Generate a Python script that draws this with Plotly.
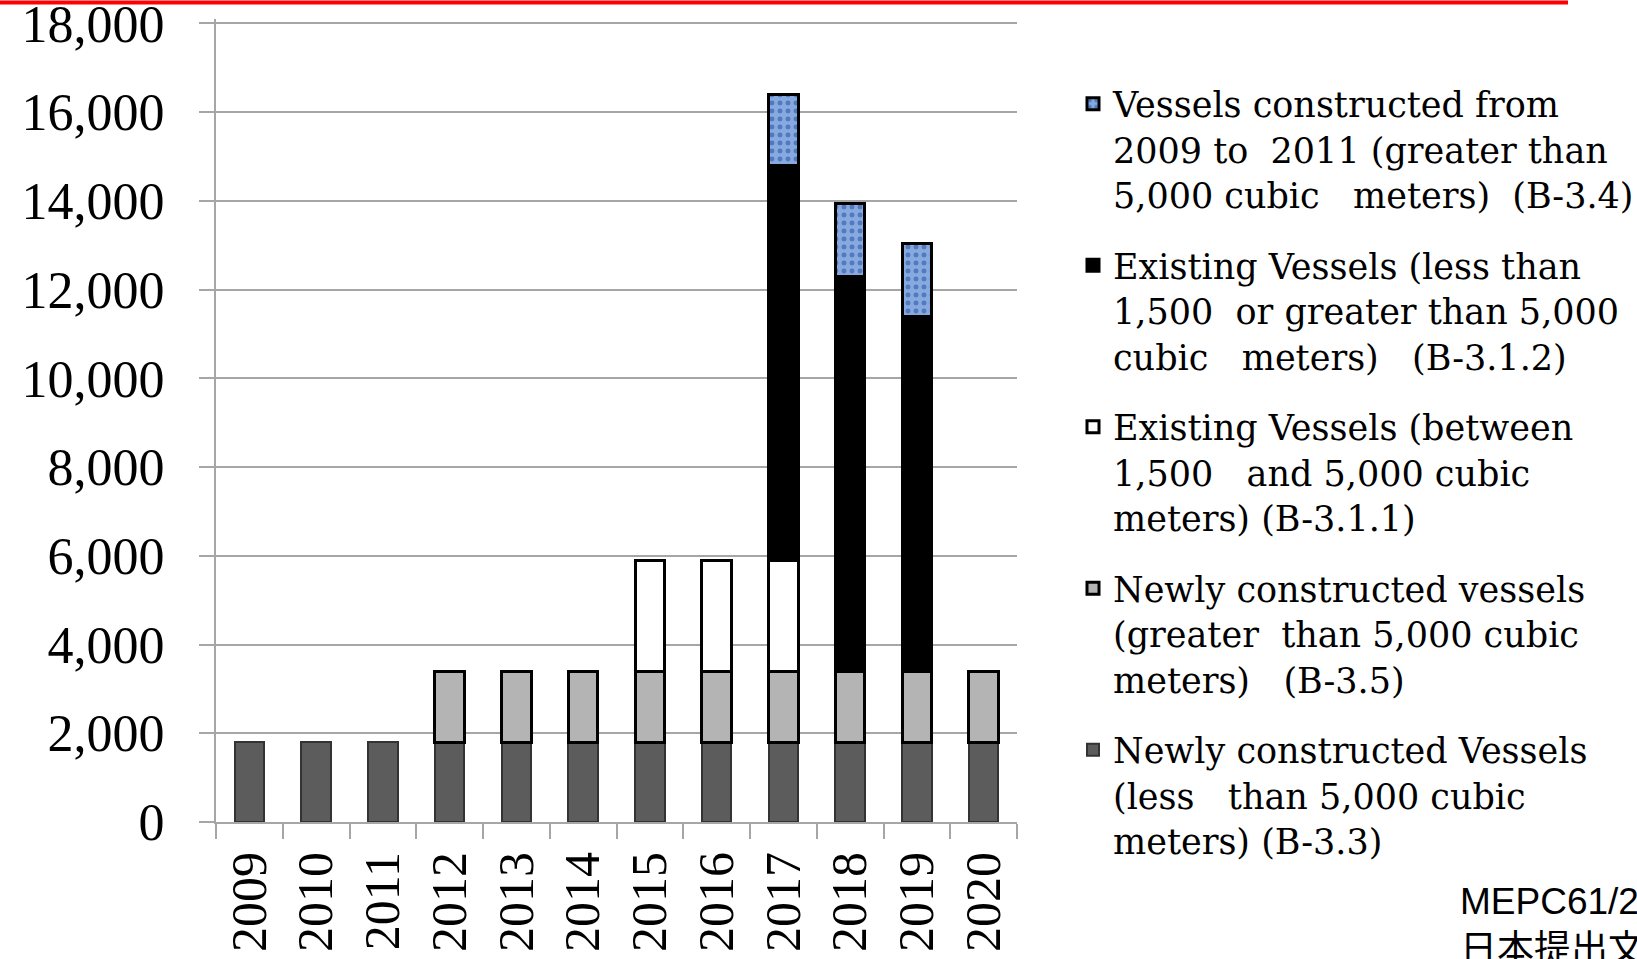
import plotly.graph_objects as go

years = ["2009", "2010", "2011", "2012", "2013", "2014", "2015", "2016", "2017", "2018", "2019", "2020"]

# stacked from bottom to top
new_small = [1800, 1800, 1800, 1800, 1800, 1800, 1800, 1800, 1800, 1800, 1800, 1800]      # B-3.3
new_large = [None, None, None, 1600, 1600, 1600, 1600, 1600, 1600, 1600, 1600, 1600]      # B-3.5
exist_mid = [None, None, None, None, None, None, 2500, 2500, 2500, None, None, None]      # B-3.1.1
exist_other = [None, None, None, None, None, None, None, None, 8900, 8900, 8000, None]    # B-3.1.2
vessels_0911 = [None, None, None, None, None, None, None, None, 1600, 1650, 1650, None]   # B-3.4

y_ticks = [0, 2000, 4000, 6000, 8000, 10000, 12000, 14000, 16000, 18000]

names = [
    "Newly constructed Vessels<br>(less   than 5,000 cubic<br>meters) (B-3.3)",
    "Newly constructed vessels<br>(greater  than 5,000 cubic<br>meters)   (B-3.5)",
    "Existing Vessels (between<br>1,500   and 5,000 cubic<br>meters) (B-3.1.1)",
    "Existing Vessels (less than<br>1,500  or greater than 5,000<br>cubic   meters)   (B-3.1.2)",
    "Vessels constructed from<br>2009 to  2011 (greater than<br>5,000 cubic   meters)  (B-3.4)",
]

W, H = 1637, 959
Y_TOP = 18100
L, R, B = 216, 1017, 822
T = B - 799 * Y_TOP / 18000  # 18000 sits at 23 px


def px(x):
    return (x - L) / (R - L)


def py(y):
    return (B - y) / (B - T)


fig = go.Figure()
fig.add_trace(go.Bar(x=years, y=new_small, name=names[0], legendgroup="a", legendrank=5,
                     marker=dict(color="#5c5c5c", line=dict(color="#333333", width=2))))
fig.add_trace(go.Bar(x=years, y=new_large, name=names[1], legendgroup="b", legendrank=4,
                     marker=dict(color="#b4b4b4", line=dict(color="#000000", width=3))))
fig.add_trace(go.Bar(x=years, y=exist_mid, name=names[2], legendgroup="c", legendrank=3,
                     marker=dict(color="#ffffff", line=dict(color="#000000", width=3))))
fig.add_trace(go.Bar(x=years, y=exist_other, name=names[3], legendgroup="d", legendrank=2,
                     marker=dict(color="#000000", line=dict(color="#000000", width=3))))
fig.add_trace(go.Bar(x=years, y=vessels_0911, name=names[4], legendgroup="e", legendrank=1,
                     marker=dict(color="#7fa3dc", line=dict(color="#000000", width=3),
                                 pattern=dict(shape=".", fgcolor="#5279bd", bgcolor="#86a9df",
                                              size=8, solidity=0.3, fillmode="replace"))))

serif = "Liberation Serif, Times New Roman, serif"

fig.update_layout(
    width=W, height=H,
    margin=dict(l=L, r=W - R, t=T, b=H - B, pad=0, autoexpand=False),
    barmode="stack",
    bargap=0.56,
    plot_bgcolor="white",
    paper_bgcolor="white",
    font=dict(family=serif, color="black"),
    showlegend=True,
    legend=dict(
        x=px(1073), xanchor="left",
        y=py(74), yanchor="top",
        traceorder="grouped",
        tracegroupgap=22,
        valign="top",
        maxheight=2000,
        font=dict(family="DejaVu Serif, serif", size=35, color="black"),
        bgcolor="rgba(0,0,0,0)",
        itemclick=False,
    ),
    shapes=[
        dict(type="rect", xref="paper", yref="paper",
             x0=px(0), x1=px(1568), y0=py(0), y1=py(4),
             fillcolor="#ff0000", line=dict(width=0), layer="above"),
    ],
    annotations=[
        dict(text="MEPC61/2<br>日本提出文", xref="paper", yref="paper",
             x=px(1458), y=py(879), xanchor="left", yanchor="top", align="left",
             showarrow=False,
             font=dict(family="Liberation Sans, Arial, Noto Sans CJK JP", size=37, color="black")),
    ],
)

fig.update_yaxes(
    range=[0, Y_TOP], tickvals=y_ticks,
    tickformat=",",
    showgrid=True, gridcolor="#a6a6a6", gridwidth=2,
    showline=True, linecolor="#a6a6a6", linewidth=2,
    ticks="outside", ticklen=15, tickcolor="#a6a6a6", tickwidth=2,
    zeroline=False,
    ticklabelstandoff=24,
    ticklabeloverflow="allow",
    tickfont=dict(family=serif, size=52, color="black"),
)
fig.update_xaxes(
    type="category",
    showgrid=False,
    showline=True, linecolor="#a6a6a6", linewidth=2,
    ticks="outside", tickson="boundaries", ticklen=15, tickcolor="#a6a6a6", tickwidth=2,
    tickangle=-90,
    ticklabelstandoff=8,
    tickfont=dict(family=serif, size=50, color="black"),
)

fig.write_html("out.html")
